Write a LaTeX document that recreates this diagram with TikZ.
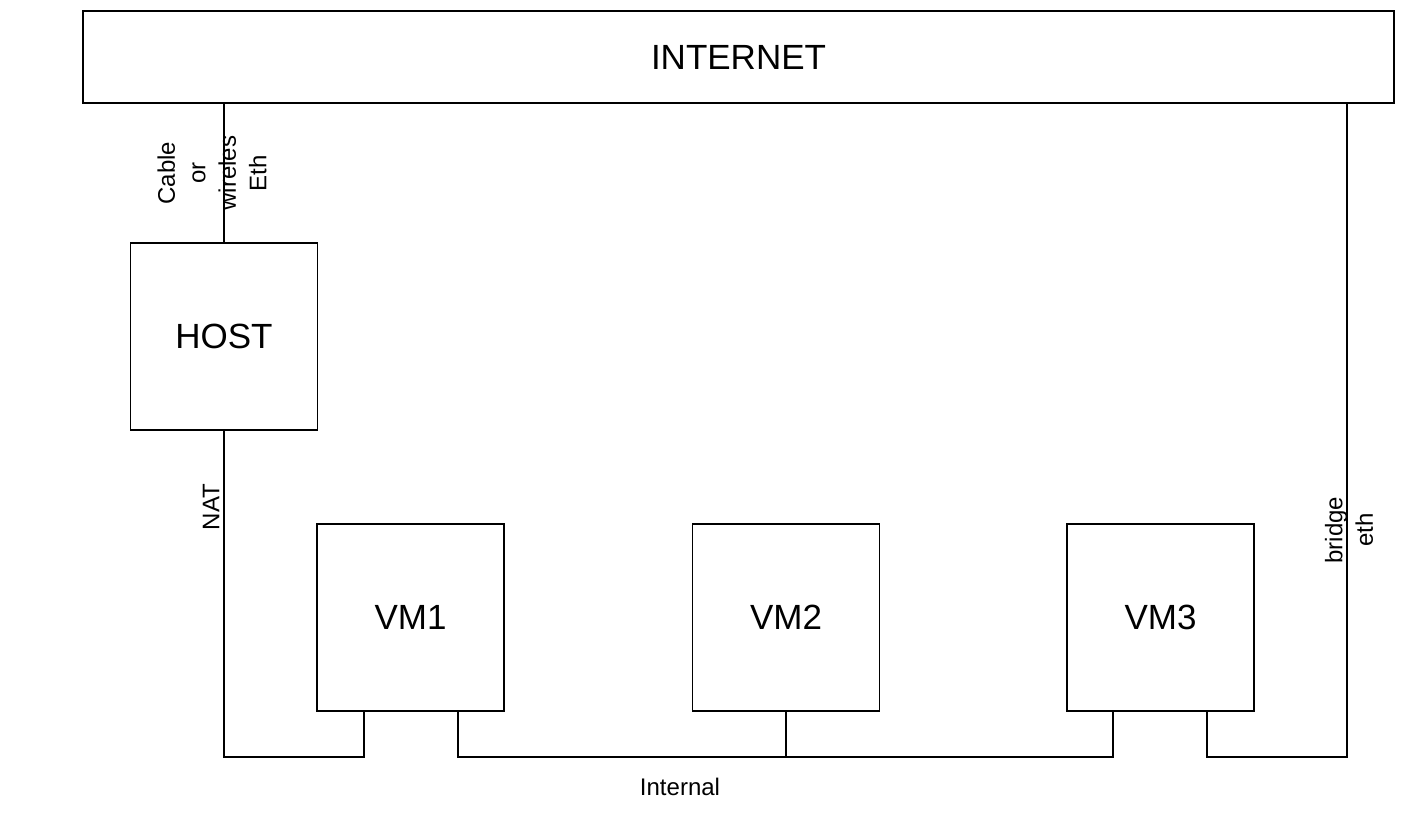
\documentclass[tikz,border=0pt]{standalone}
\usepackage{fontspec}
\setmainfont{Liberation Sans}
\begin{document}
\begin{tikzpicture}[x=1pt,y=-1pt,line width=1.2pt,
  box/.style={draw,minimum width=187pt,minimum height=187pt,inner sep=0pt,font=\fontsize{35}{42}\selectfont},
  lbl/.style={font=\fontsize{24}{30.5}\selectfont,align=center,inner sep=0pt}]
\useasboundingbox (0,0) rectangle (1410,818);
\node[draw,minimum width=1311pt,minimum height=92pt,inner sep=0pt,font=\fontsize{35}{42}\selectfont] (inet) at (738.5,57) {INTERNET};
\node[box] (host) at (224,336.5) {HOST};
\node[box] (vm1) at (410.5,617.5) {VM1};
\node[box] (vm2) at (786,617.5) {VM2};
\node[box] (vm3) at (1160.5,617.5) {VM3};
\coordinate (a1) at (224,757);
\coordinate (a2) at (364,757);
\coordinate (b1) at (458,757);
\coordinate (b2) at (1113,757);
\coordinate (b3) at (786,757);
\coordinate (c1) at (1207,757);
\coordinate (c2) at (1347,757);
\draw (inet.south -| host.north) -- (host.north);
\draw (host.south) -- (host.south |- a1) -- (a2) -- (a2 |- vm1.south);
\draw (b1 |- vm1.south) -- (b1) -- (b2) -- (b2 |- vm3.south);
\draw (vm2.south) -- (vm2.south |- b3);
\draw (c1 |- vm3.south) -- (c1) -- (c2) -- (c2 |- inet.south);
\node[lbl,rotate=90] (l1) at (212,173) {Cable\\or\\wireles\\Eth};
\node[lbl,rotate=90] (l2) at (211,507) {NAT};
\node[lbl,rotate=90] (l3) at (1349,530) {bridge\\eth};
\node[lbl] (l4) at (680,787) {Internal};
\end{tikzpicture}
\end{document}
